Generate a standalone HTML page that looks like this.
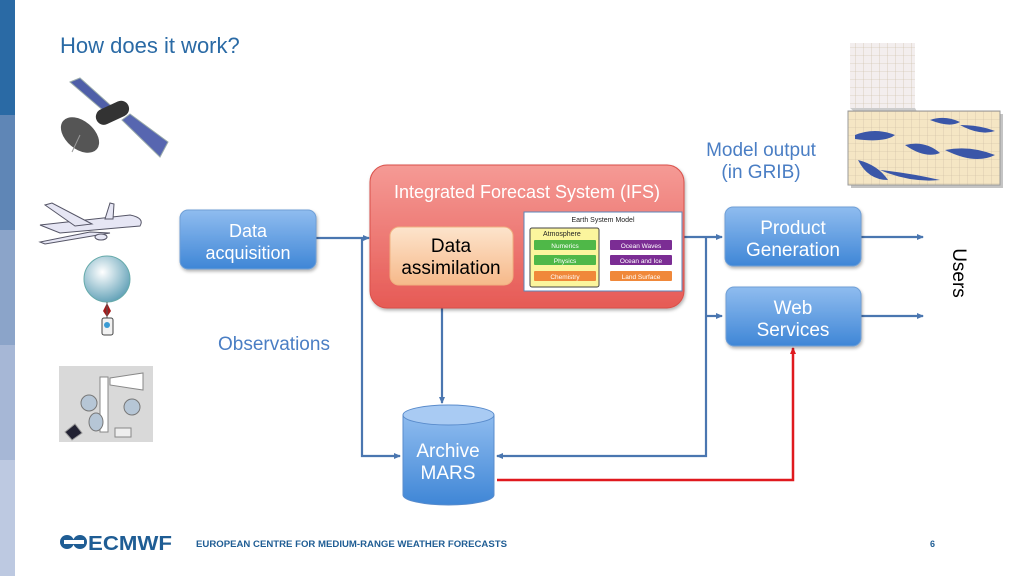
<!DOCTYPE html>
<html><head><meta charset="utf-8"><style>
body{margin:0;width:1024px;height:576px;overflow:hidden;background:#fff;font-family:"Liberation Sans",sans-serif;}
svg{position:absolute;left:0;top:0}
</style></head><body>
<svg width="1024" height="576" viewBox="0 0 1024 576" xmlns="http://www.w3.org/2000/svg" font-family="Liberation Sans, sans-serif">
<defs>
<linearGradient id="bl" x1="0" y1="0" x2="0" y2="1"><stop offset="0" stop-color="#8fbcef"/><stop offset="1" stop-color="#3f86d6"/></linearGradient>
<linearGradient id="rd" x1="0" y1="0" x2="0" y2="1"><stop offset="0" stop-color="#f59a95"/><stop offset="1" stop-color="#e65a55"/></linearGradient>
<linearGradient id="or" x1="0" y1="0" x2="0" y2="1"><stop offset="0" stop-color="#fde4cc"/><stop offset="1" stop-color="#f6b98a"/></linearGradient>
<radialGradient id="ball" cx="0.4" cy="0.35" r="0.7"><stop offset="0" stop-color="#fff"/><stop offset="1" stop-color="#5d9eb5"/></radialGradient>
<marker id="ab" markerWidth="8" markerHeight="8" refX="6" refY="3" orient="auto" markerUnits="userSpaceOnUse"><path d="M0,0 L7,3 L0,6z" fill="#4a76b0"/></marker>
<marker id="ar" markerWidth="8" markerHeight="8" refX="6" refY="3" orient="auto" markerUnits="userSpaceOnUse"><path d="M0,0 L7,3 L0,6z" fill="#e0191e"/></marker>
<pattern id="grid" width="8" height="8" patternUnits="userSpaceOnUse"><path d="M8 0V8H0" fill="none" stroke="#c9b9a0" stroke-width="0.6"/></pattern>
<filter id="sh" x="-10%" y="-10%" width="130%" height="130%"><feDropShadow dx="1" dy="2" stdDeviation="1.5" flood-opacity="0.3"/></filter>
</defs>
<rect x="0" y="0" width="15" height="115" fill="#2a6aa5"/>
<rect x="0" y="115" width="15" height="115" fill="#5f86b6"/>
<rect x="0" y="230" width="15" height="115" fill="#8ba4c9"/>
<rect x="0" y="345" width="15" height="115" fill="#a6b7d6"/>
<rect x="0" y="460" width="15" height="116" fill="#bdc9e1"/>
<text x="60" y="53" font-size="22" fill="#2a6aa5">How does it work?</text>

<g>
<polygon points="70,82 80,78 118,112 112,118" fill="#4f5fa8" stroke="#9aa" />
<polygon points="122,120 130,114 168,142 160,157" fill="#5766b0" stroke="#9aa"/>
<rect x="95" y="105" width="35" height="16" rx="8" fill="#333" transform="rotate(-25 112 113)"/>
<ellipse cx="80" cy="135" rx="22" ry="14" fill="#555" transform="rotate(40 80 135)"/>
<line x1="80" y1="135" x2="72" y2="152" stroke="#999"/>
</g>
<g fill="#e6e6f4" stroke="#556" stroke-width="1">
<path d="M40,225 L130,215 Q145,218 140,226 L60,233 Z"/>
<path d="M75,226 L45,205 L52,203 L92,224Z"/>
<path d="M90,232 L40,242 L45,244 L110,233Z"/>
<path d="M105,219 L110,203 L114,204 L113,219Z"/>
<ellipse cx="101" cy="237" rx="6" ry="3"/>
</g>
<circle cx="107" cy="279" r="23" fill="url(#ball)" stroke="#6aa"/>
<path d="M107,303 l-4,8 l4,6 l4,-6z" fill="#a31b1b"/>
<line x1="107" y1="302" x2="107" y2="325" stroke="#555"/>
<rect x="102" y="318" width="11" height="17" rx="2" fill="#f2f2f2" stroke="#444"/>
<circle cx="107" cy="325" r="3" fill="#3a9bd4"/>
<rect x="59" y="366" width="94" height="76" fill="#d9d9d9"/>
<rect x="100" y="377" width="8" height="55" fill="#fff" stroke="#888"/>
<polygon points="110,378 143,373 143,390 110,385" fill="#fff" stroke="#888"/>
<ellipse cx="89" cy="403" rx="8" ry="8" fill="#b6c6d6" stroke="#777"/>
<ellipse cx="132" cy="407" rx="8" ry="8" fill="#b6c6d6" stroke="#777"/>
<ellipse cx="96" cy="422" rx="7" ry="9" fill="#b6c6d6" stroke="#777"/>
<polygon points="65,432 75,424 82,433 72,440" fill="#223" stroke="#999"/>
<rect x="115" y="428" width="16" height="9" fill="#eee" stroke="#888"/>

<g fill="none" stroke="#4a76b0" stroke-width="2.2">
<path d="M316,238 H369" marker-end="url(#ab)"/>
<path d="M362,238 V456 H400" marker-end="url(#ab)"/>
<path d="M442,286 V403" marker-end="url(#ab)"/>
<path d="M684,237 H722" marker-end="url(#ab)"/>
<path d="M706,237 V456 H497" marker-end="url(#ab)"/>
<path d="M706,316 H722" marker-end="url(#ab)"/>
<path d="M861,237 H923" marker-end="url(#ab)"/>
<path d="M861,316 H923" marker-end="url(#ab)"/>
</g>
<path d="M497,480 H793 V348" fill="none" stroke="#e0191e" stroke-width="2.5" marker-end="url(#ar)"/>

<rect x="180" y="210" width="136" height="59" rx="8" fill="url(#bl)" stroke="#6f9fd6" filter="url(#sh)"/>
<text x="248" y="237" font-size="18" fill="#fff" text-anchor="middle">Data</text>
<text x="248" y="259" font-size="18" fill="#fff" text-anchor="middle">acquisition</text>
<text x="218" y="350" font-size="19" fill="#4a7ec4">Observations</text>

<rect x="370" y="165" width="314" height="143" rx="17" fill="url(#rd)" stroke="#d9504a" filter="url(#sh)"/>
<text x="527" y="198" font-size="18" fill="#fff" text-anchor="middle">Integrated Forecast System (IFS)</text>
<rect x="390" y="227" width="123" height="58" rx="9" fill="url(#or)" stroke="#f0b080"/>
<text x="451" y="252" font-size="19" fill="#000" text-anchor="middle">Data</text>
<text x="451" y="274" font-size="19" fill="#000" text-anchor="middle">assimilation</text>
<rect x="524" y="212" width="158" height="79" fill="#fff" stroke="#5c86b8"/>
<text x="603" y="222" font-size="7" fill="#222" text-anchor="middle">Earth System Model</text>
<rect x="530" y="228" width="69" height="59" rx="2" fill="#fbf59d" stroke="#444"/>
<text x="543" y="236" font-size="7" fill="#222">Atmosphere</text>
<rect x="534" y="240" width="62" height="10" rx="1" fill="#4fb848"/><text x="565" y="248" font-size="6.5" fill="#fff" text-anchor="middle">Numerics</text>
<rect x="534" y="255" width="62" height="10" rx="1" fill="#4fb848"/><text x="565" y="263" font-size="6.5" fill="#fff" text-anchor="middle">Physics</text>
<rect x="534" y="271" width="62" height="10" rx="1" fill="#f0883a"/><text x="565" y="279" font-size="6.5" fill="#fff" text-anchor="middle">Chemistry</text>
<rect x="610" y="240" width="62" height="10" rx="1" fill="#7b2d94"/><text x="641" y="248" font-size="6.5" fill="#fff" text-anchor="middle">Ocean Waves</text>
<rect x="610" y="255" width="62" height="10" rx="1" fill="#7b2d94"/><text x="641" y="263" font-size="6.5" fill="#fff" text-anchor="middle">Ocean and Ice</text>
<rect x="610" y="271" width="62" height="10" rx="1" fill="#f0883a"/><text x="641" y="279" font-size="6.5" fill="#fff" text-anchor="middle">Land Surface</text>

<path d="M403,415 V495 A45.5,10 0 0 0 494,495 V415" fill="url(#bl)" stroke="#5a8ccc"/>
<ellipse cx="448.5" cy="415" rx="45.5" ry="10" fill="#a9cbf3" stroke="#5a8ccc"/>
<text x="448" y="457" font-size="19" fill="#fff" text-anchor="middle">Archive</text>
<text x="448" y="479" font-size="19" fill="#fff" text-anchor="middle">MARS</text>

<rect x="725" y="207" width="136" height="59" rx="8" fill="url(#bl)" stroke="#6f9fd6" filter="url(#sh)"/>
<text x="793" y="234" font-size="19" fill="#fff" text-anchor="middle">Product</text>
<text x="793" y="256" font-size="19" fill="#fff" text-anchor="middle">Generation</text>
<rect x="726" y="287" width="135" height="59" rx="8" fill="url(#bl)" stroke="#6f9fd6" filter="url(#sh)"/>
<text x="793" y="314" font-size="19" fill="#fff" text-anchor="middle">Web</text>
<text x="793" y="336" font-size="19" fill="#fff" text-anchor="middle">Services</text>
<text x="761" y="156" font-size="19" fill="#4a7ec4" text-anchor="middle">Model output</text>
<text x="761" y="178" font-size="19" fill="#4a7ec4" text-anchor="middle">(in GRIB)</text>
<text transform="translate(953,273) rotate(90)" font-size="19" fill="#000" text-anchor="middle">Users</text>

<rect x="850" y="43" width="65" height="65" fill="#f3eeee"/>
<rect x="850" y="43" width="65" height="65" fill="url(#grid)"/>
<polygon points="850,108 915,108 925,125 870,125" fill="#aaa" opacity="0.6"/>
<rect x="851" y="114" width="152" height="74" fill="#8a8a8a" opacity="0.5"/>
<rect x="848" y="111" width="152" height="74" fill="#f5e6c4"/>
<rect x="848" y="111" width="152" height="74" fill="url(#grid)"/>
<g fill="#3a56a8">
<path d="M855,135 q20,-8 40,0 q-10,8 -40,4z"/><path d="M858,160 q20,5 30,20 q-20,0 -30,-20z"/>
<path d="M905,145 q20,-5 35,8 q-15,6 -35,-8z"/><path d="M945,150 q25,-5 50,5 q-20,10 -50,-5z"/>
<path d="M930,120 q15,-5 30,2 q-10,6 -30,-2z"/><path d="M960,125 q20,0 35,6 q-15,5 -35,-6z"/>
<path d="M880,170 q30,3 60,10 q-30,3 -60,-10z"/>
</g>
<rect x="848" y="111" width="152" height="74" fill="none" stroke="#999"/>

<g fill="#1f5d94">
<circle cx="67" cy="542" r="7"/><circle cx="80" cy="542" r="7"/>
<rect x="64" y="540" width="20" height="4" fill="#fff"/>
</g>
<text x="88" y="550" font-size="20" font-weight="bold" fill="#1f5d94" textLength="84" lengthAdjust="spacingAndGlyphs">ECMWF</text>
<text x="196" y="547" font-size="9" font-weight="bold" fill="#1f5d94" textLength="311" lengthAdjust="spacingAndGlyphs">EUROPEAN CENTRE FOR MEDIUM-RANGE WEATHER FORECASTS</text>
<text x="930" y="547" font-size="9" font-weight="bold" fill="#1f5d94">6</text>
</svg>
</body></html>
